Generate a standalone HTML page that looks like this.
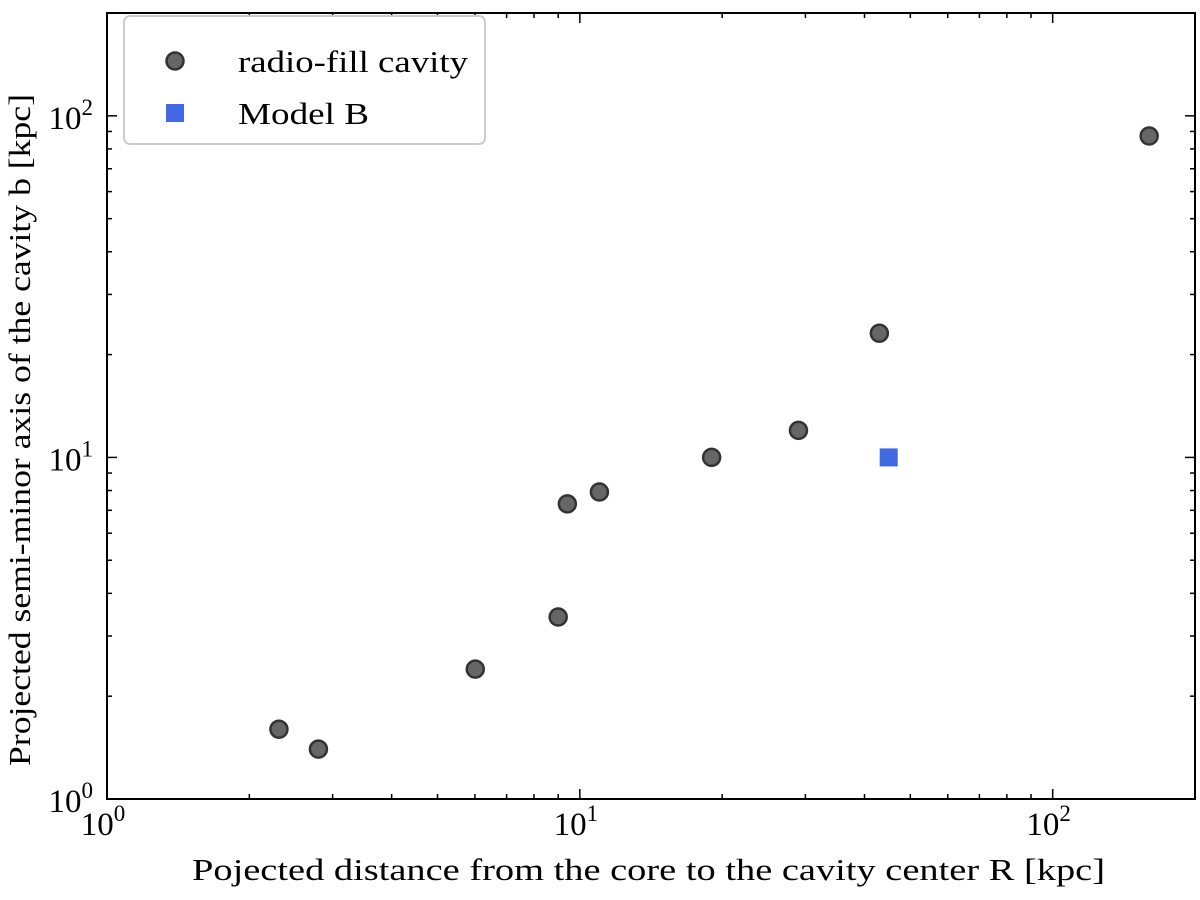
<!DOCTYPE html>
<html><head><meta charset="utf-8"><style>
body{margin:0;background:#fff}
svg{font-family:"Liberation Serif",serif;display:block}
</style></head><body>
<svg id="chart" width="1200" height="900">
<g id="plot"></g>
</svg>
<script>
const radioR=[2.31,2.80,6.01,9.0,9.41,11.0,19.0,29.0,43.0,160];
const radioB=[1.60,1.40,2.40,3.41,7.31,7.92,10.0,12.0,23.1,87.3];
const modelR=[45];
const modelB=[10];
const xTickLabels=["10","10","10"];
const xTickExps=["0","1","2"];
const yTickExps=["0","1","2"];

const L=107,R=1195,T=13,B=799;
const xMin=1,xMax=200,yMin=1,yMax=200;
const X=v=>L+(Math.log10(v)-Math.log10(xMin))/(Math.log10(xMax)-Math.log10(xMin))*(R-L);
const Y=v=>B-(Math.log10(v)-Math.log10(yMin))/(Math.log10(yMax)-Math.log10(yMin))*(B-T);
const NS="http://www.w3.org/2000/svg";
const g=document.getElementById('plot');
function mk(t,a,p){const e=document.createElementNS(NS,t);for(const k in a)e.setAttribute(k,a[k]);(p||g).appendChild(e);return e;}

for(let d=0;d<=2;d++){for(let m=1;m<=9;m++){const v=m*Math.pow(10,d);
 const major=m===1;const len=major?10:5;
 if(v<=xMax){const x=X(v);
  const t1=mk('line',{x1:x,x2:x,y1:B,y2:B-len,stroke:'#000','stroke-width':1.5});
  
  const t2=mk('line',{x1:x,x2:x,y1:T,y2:T+len,stroke:'#000','stroke-width':1.5});
  }
 if(v<=yMax){const y=Y(v);
  const t3=mk('line',{x1:L,x2:L+len,y1:y,y2:y,stroke:'#000','stroke-width':1.5});
  
  const t4=mk('line',{x1:R,x2:R-len,y1:y,y2:y,stroke:'#000','stroke-width':1.5});
  }
}}
xTickExps.forEach((e,i)=>{const v=Math.pow(10,i);const t=mk('text',{x:X(v)-4,y:B+36,'font-size':33,'text-anchor':'middle'});
 
 t.innerHTML=xTickLabels[i]+'<tspan font-size="23" dy="-14">'+e+'</tspan>';});
yTickExps.forEach((e,i)=>{const v=Math.pow(10,i);const t=mk('text',{x:L-14,y:Y(v)+13,'font-size':33,'text-anchor':'end'});
 
 t.innerHTML='10<tspan font-size="23" dy="-14">'+e+'</tspan>';});

radioR.forEach((r,i)=>{const c=mk('circle',{cx:X(r),cy:Y(radioB[i]),r:8.5,fill:'#666',stroke:'#333','stroke-width':2.5});
 });
modelR.forEach((r,i)=>{const s=mk('rect',{x:X(r)-9,y:Y(modelB[i])-9,width:18,height:18,fill:'#4169e1'});
 });

const f=mk('rect',{x:L,y:T,width:R-L,height:B-T,fill:'none',stroke:'#000','stroke-width':2});


const lg=mk('g',{});
mk('rect',{x:124,y:16,width:361,height:128,rx:6,fill:'#fff',stroke:'#ccc','stroke-width':2},lg);
const lc=mk('circle',{cx:175,cy:61,r:8.5,fill:'#666',stroke:'#333','stroke-width':2.5},lg);

const lt1=mk('text',{x:238,y:72,'font-size':31,textLength:230,lengthAdjust:'spacingAndGlyphs'},lg);lt1.textContent='radio-fill cavity';

const ls=mk('rect',{x:166,y:104,width:18,height:18,fill:'#4169e1'},lg);

const lt2=mk('text',{x:238,y:124,'font-size':31,textLength:131,lengthAdjust:'spacingAndGlyphs'},lg);lt2.textContent='Model B';


const xt=mk('text',{x:192,y:880,'font-size':31,textLength:913,lengthAdjust:'spacingAndGlyphs'});
xt.textContent='Pojected distance from the core to the cavity center R [kpc]';

const yt=mk('text',{x:0,y:0,'font-size':31,textLength:672,lengthAdjust:'spacingAndGlyphs',transform:'translate(30,766) rotate(-90)'});
yt.textContent='Projected semi-minor axis of the cavity b [kpc]';

</script>
</body></html>
